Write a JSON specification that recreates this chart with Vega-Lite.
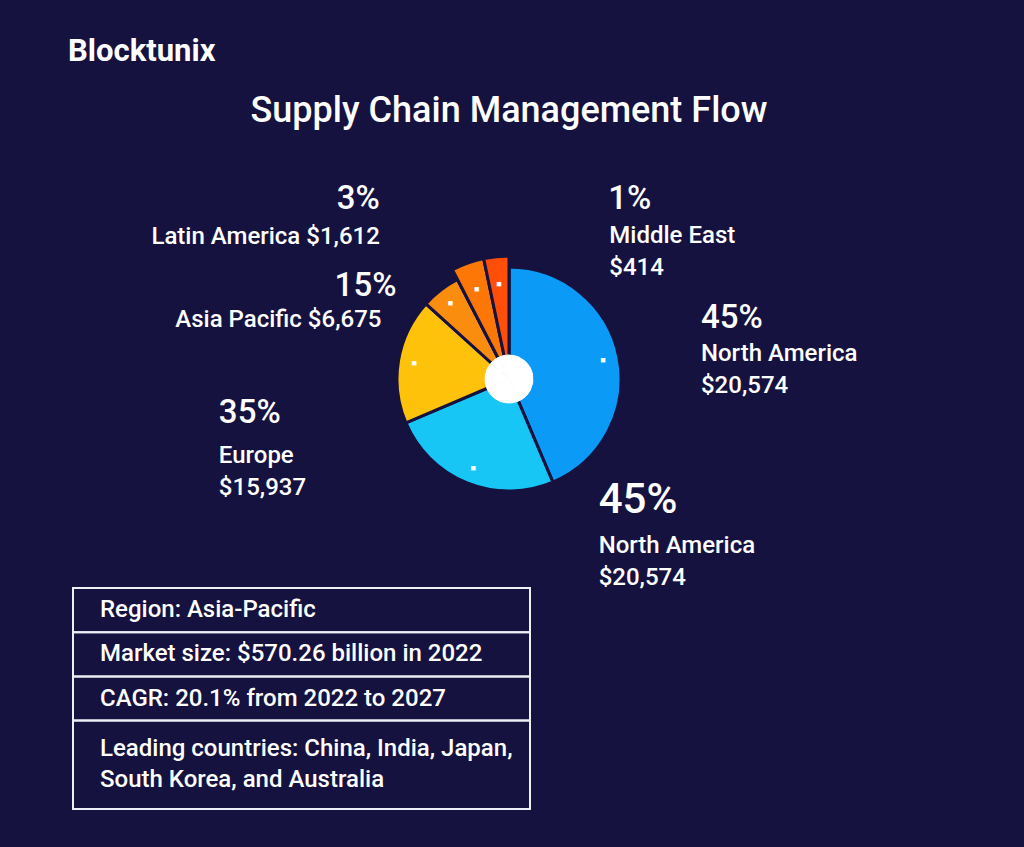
{
  "$schema": "https://vega.github.io/schema/vega-lite/v6.json",
  "background": "#15123f",
  "padding": {"left": 68, "top": 36, "right": 80, "bottom": 40},
  "title": {"text": "Blocktunix", "anchor": "start", "dx": -4, "fontSize": 31, "fontWeight": "bold", "font": "Roboto", "color": "#ffffff", "offset": 25},
  "spacing": 3,
  "bounds": "flush",
  "config": {"view": {"stroke": null}, "font": "Roboto"},
  "vconcat": [
    {
      "width": 872,
      "height": 412,
      "title": {"text": "Supply Chain Management Flow", "fontSize": 36, "fontWeight": 500, "color": "#ffffff", "offset": 13, "anchor": "middle", "font": "Roboto"},
      "data": {"values": [
        {"idx": 1, "slice": "North America 1", "region": "North America", "share": 43.6, "pct": "45%", "amount": "$20,574", "caption": ["North America", "$20,574"]},
        {"idx": 2, "slice": "North America 2", "region": "North America", "share": 25.0, "pct": "45%", "amount": "$20,574", "caption": ["North America", "$20,574"]},
        {"idx": 3, "slice": "Europe", "region": "Europe", "share": 18.1, "pct": "35%", "amount": "$15,937", "caption": ["Europe", "$15,937"]},
        {"idx": 4, "slice": "Asia Pacific", "region": "Asia Pacific", "share": 5.7, "pct": "15%", "amount": "$6,675", "caption": "Asia Pacific $6,675"},
        {"idx": 5, "slice": "Latin America", "region": "Latin America", "share": 4.3, "pct": "3%", "amount": "$1,612", "caption": "Latin America $1,612"},
        {"idx": 6, "slice": "Middle East", "region": "Middle East", "share": 3.3, "pct": "1%", "amount": "$414", "caption": ["Middle East", "$414"]}
      ]},
      "encoding": {
        "theta": {"field": "share", "type": "quantitative", "stack": true},
        "order": {"field": "idx", "type": "quantitative"},
        "detail": {"field": "slice", "type": "nominal"}
      },
      "layer": [
        {
          "mark": {"type": "arc", "radius": 112, "stroke": "#15123f", "strokeWidth": 3},
          "encoding": {"color": {"field": "slice", "type": "nominal", "legend": null,
            "scale": {"domain": ["North America 1", "North America 2", "Europe", "Asia Pacific", "Latin America", "Middle East"],
                      "range": ["#0b9af5", "#18c6f6", "#fec20b", "#fb8d0e", "#fd7707", "#fe4e08"]}}}
        },
        {
          "mark": {"type": "arc", "radius": 123, "stroke": "#15123f", "strokeWidth": 3},
          "encoding": {
            "color": {"field": "slice", "type": "nominal", "legend": null},
            "opacity": {"condition": {"test": "datum.idx >= 5", "value": 1}, "value": 0}
          }
        },
        {
          "mark": {"type": "arc", "radius": 24, "fill": "#ffffff", "stroke": "#ffffff", "strokeWidth": 1}
        },
        {
          "mark": {"type": "text", "radius": 96, "text": "■", "fontSize": 9, "fill": "#ffffff", "align": "center", "baseline": "middle"}
        },
        {
          "mark": {"type": "text", "radius": 200, "dx": -4, "dy": -11, "align": "left", "baseline": "alphabetic", "fontSize": 33, "fontWeight": 500, "fill": "#ffffff"},
          "encoding": {"text": {"field": "pct"}, "opacity": {"condition": {"test": "datum.idx === 1", "value": 1}, "value": 0}}
        },
        {
          "mark": {"type": "text", "radius": 200, "dx": -4, "dy": 22, "align": "left", "baseline": "alphabetic", "fontSize": 24, "fontWeight": 500, "lineHeight": 32, "fill": "#ffffff"},
          "encoding": {"text": {"field": "caption"}, "opacity": {"condition": {"test": "datum.idx === 1", "value": 1}, "value": 0}}
        },
        {
          "mark": {"type": "text", "radius": 140, "dx": 142, "dy": 4, "align": "left", "baseline": "alphabetic", "fontSize": 42, "fontWeight": 500, "fill": "#ffffff"},
          "encoding": {"text": {"field": "pct"}, "opacity": {"condition": {"test": "datum.idx === 2", "value": 1}, "value": 0}}
        },
        {
          "mark": {"type": "text", "radius": 140, "dx": 142, "dy": 44, "align": "left", "baseline": "alphabetic", "fontSize": 24, "fontWeight": 500, "lineHeight": 32, "fill": "#ffffff"},
          "encoding": {"text": {"field": "caption"}, "opacity": {"condition": {"test": "datum.idx === 2", "value": 1}, "value": 0}}
        },
        {
          "mark": {"type": "text", "radius": 280, "dx": -14, "dy": 90, "align": "left", "baseline": "alphabetic", "fontSize": 33, "fontWeight": 500, "fill": "#ffffff"},
          "encoding": {"text": {"field": "pct"}, "opacity": {"condition": {"test": "datum.idx === 3", "value": 1}, "value": 0}}
        },
        {
          "mark": {"type": "text", "radius": 280, "dx": -14, "dy": 130, "align": "left", "baseline": "alphabetic", "fontSize": 24, "fontWeight": 500, "lineHeight": 32, "fill": "#ffffff"},
          "encoding": {"text": {"field": "caption"}, "opacity": {"condition": {"test": "datum.idx === 3", "value": 1}, "value": 0}}
        },
        {
          "mark": {"type": "text", "radius": 150, "dx": -21, "dy": 36, "align": "right", "baseline": "alphabetic", "fontSize": 33, "fontWeight": 500, "fill": "#ffffff"},
          "encoding": {"text": {"field": "pct"}, "opacity": {"condition": {"test": "datum.idx === 4", "value": 1}, "value": 0}}
        },
        {
          "mark": {"type": "text", "radius": 150, "dx": -36, "dy": 67, "align": "right", "baseline": "alphabetic", "fontSize": 24, "fontWeight": 500, "fill": "#ffffff"},
          "encoding": {"text": {"field": "caption"}, "opacity": {"condition": {"test": "datum.idx === 4", "value": 1}, "value": 0}}
        },
        {
          "mark": {"type": "text", "radius": 200, "dx": -62, "dy": 18, "align": "right", "baseline": "alphabetic", "fontSize": 33, "fontWeight": 500, "fill": "#ffffff"},
          "encoding": {"text": {"field": "pct"}, "opacity": {"condition": {"test": "datum.idx === 5", "value": 1}, "value": 0}}
        },
        {
          "mark": {"type": "text", "radius": 200, "dx": -62, "dy": 53, "align": "right", "baseline": "alphabetic", "fontSize": 24, "fontWeight": 500, "fill": "#ffffff"},
          "encoding": {"text": {"field": "caption"}, "opacity": {"condition": {"test": "datum.idx === 5", "value": 1}, "value": 0}}
        },
        {
          "mark": {"type": "text", "radius": 190, "dx": 119, "dy": 19, "align": "left", "baseline": "alphabetic", "fontSize": 33, "fontWeight": 500, "fill": "#ffffff"},
          "encoding": {"text": {"field": "pct"}, "opacity": {"condition": {"test": "datum.idx === 6", "value": 1}, "value": 0}}
        },
        {
          "mark": {"type": "text", "radius": 190, "dx": 120, "dy": 53, "align": "left", "baseline": "alphabetic", "fontSize": 24, "fontWeight": 500, "lineHeight": 32, "fill": "#ffffff"},
          "encoding": {"text": {"field": "caption"}, "opacity": {"condition": {"test": "datum.idx === 6", "value": 1}, "value": 0}}
        }
      ]
    },
    {
      "width": 457,
      "height": 221,
      "data": {"values": [
        {"item": "Region", "rank": 1, "line": "Region: Asia-Pacific"},
        {"item": "Market size", "rank": 2, "line": "Market size: $570.26 billion in 2022"},
        {"item": "CAGR", "rank": 3, "line": "CAGR: 20.1% from 2022 to 2027"},
        {"item": "Leading countries", "rank": 4, "line": "Leading countries: China, India, Japan,"},
        {"item": "Leading countries", "rank": 5, "line": "South Korea, and Australia"}
      ]},
      "encoding": {
        "y": {"aggregate": "count", "type": "quantitative", "stack": "zero", "axis": null, "scale": {"reverse": true, "nice": false, "zero": true}},
        "x": {"datum": "table", "type": "nominal", "axis": null, "scale": {"paddingInner": 0, "paddingOuter": 0}},
        "detail": {"field": "item", "type": "nominal"},
        "order": {"field": "rank", "aggregate": "min", "type": "quantitative"}
      },
      "layer": [
        {"mark": {"type": "bar", "fill": "#000000", "fillOpacity": 0, "stroke": "#eeeef5", "strokeWidth": 2}},
        {
          "mark": {"type": "text", "align": "left", "baseline": "middle", "dx": 27, "dy": -22, "fontSize": 24, "fontWeight": 500, "fill": "#ffffff"},
          "encoding": {
            "x": {"datum": "table", "type": "nominal", "bandPosition": 0},
            "text": {"field": "line", "aggregate": {"argmin": "rank"}, "type": "nominal"},
            "opacity": {"condition": {"test": "datum['__count'] === 1", "value": 1}, "value": 0}
          }
        },
        {
          "mark": {"type": "text", "align": "left", "baseline": "middle", "dx": 27, "dy": -60, "fontSize": 24, "fontWeight": 500, "fill": "#ffffff"},
          "encoding": {
            "x": {"datum": "table", "type": "nominal", "bandPosition": 0},
            "text": {"field": "line", "aggregate": {"argmin": "rank"}, "type": "nominal"},
            "opacity": {"condition": {"test": "datum['__count'] === 2", "value": 1}, "value": 0}
          }
        },
        {
          "mark": {"type": "text", "align": "left", "baseline": "middle", "dx": 27, "dy": -29, "fontSize": 24, "fontWeight": 500, "fill": "#ffffff"},
          "encoding": {
            "x": {"datum": "table", "type": "nominal", "bandPosition": 0},
            "text": {"field": "line", "aggregate": {"argmax": "rank"}, "type": "nominal"},
            "opacity": {"condition": {"test": "datum['__count'] === 2", "value": 1}, "value": 0}
          }
        }
      ]
    }
  ]
}
